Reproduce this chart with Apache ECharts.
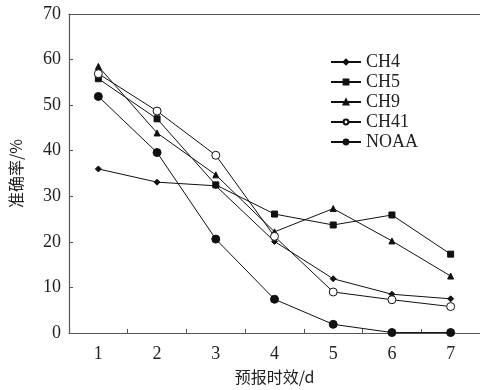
<!DOCTYPE html>
<html>
<head>
<meta charset="utf-8">
<script src="https://cdn.jsdelivr.net/npm/echarts@6/dist/echarts.min.js"></script>
<style>
  html, body { margin: 0; padding: 0; background: #fff; }
  #echart { width: 480px; height: 390px; }
</style>
</head>
<body>
<div id="echart"></div>
<script>
// 预报时效
const days = ["1", "2", "3", "4", "5", "6", "7"];
// 各通道准确率
const ch4 = [36.0, 33.1, 32.3, 20.1, 11.9, 8.5, 7.5];
const ch5 = [55.8, 47.0, 32.5, 26.1, 23.7, 25.9, 17.3];
const ch9 = [58.5, 43.9, 34.7, 22.2, 27.3, 20.2, 12.5];
const ch41 = [56.9, 48.7, 39.0, 21.2, 9.0, 7.3, 5.8];
const noaa = [51.9, 39.6, 20.6, 7.4, 1.9, 0.1, 0.1];

var chartDom = document.getElementById("echart");
var lineChart = echarts.init(chartDom);
var axisColor = "#555";
var serif = "'Liberation Serif', 'Times New Roman', serif";

function makeSeries(name, data, symbol, size, fill) {
  return {
    name: name,
    type: "line",
    data: data,
    symbol: symbol,
    symbolSize: size,
    showAllSymbol: true,
    lineStyle: { color: "#111", width: 1 },
    itemStyle: { color: fill || "#111", borderColor: "#111", borderWidth: 1 },
    emphasis: { disabled: true },
  };
}

var lineOption = {
  animation: false,
  grid: { left: 69, right: -3, top: 14, bottom: 57, containLabel: false },
  legend: {
    orient: "vertical",
    left: 330,
    top: 53,
    padding: 0,
    itemWidth: 30,
    itemHeight: 6,
    itemGap: 2,
    textStyle: { fontFamily: serif, fontSize: 18, color: "#222" },
    data: ["CH4", "CH5", "CH9", "CH41", "NOAA"],
  },
  xAxis: [
    {
      type: "category",
      data: days,
      boundaryGap: true,
      name: "预报时效/d",
      nameLocation: "middle",
      nameGap: 36,
      nameTextStyle: { fontFamily: "Noto Sans CJK SC", fontSize: 16, color: "#222" },
      axisLine: { show: true, lineStyle: { color: axisColor, width: 1.2 } },
      axisTick: { show: true, inside: true, length: 4, lineStyle: { color: axisColor } },
      axisLabel: { fontFamily: serif, fontSize: 18, color: "#222", margin: 12 },
      splitLine: { show: false },
    },
    {
      type: "category",
      data: days,
      position: "top",
      axisLine: { show: true, lineStyle: { color: axisColor, width: 1.2 } },
      axisTick: { show: false },
      axisLabel: { show: false },
    },
  ],
  yAxis: {
    type: "value",
    min: 0,
    max: 70,
    interval: 10,
    name: "准确率/%",
    nameLocation: "middle",
    nameRotate: 90,
    nameGap: 45,
    nameTextStyle: { fontFamily: "Noto Sans CJK SC", fontSize: 16, color: "#222" },
    axisLine: { show: true, lineStyle: { color: axisColor, width: 1.2 } },
    axisTick: { show: true, inside: true, length: 4, lineStyle: { color: axisColor } },
    axisLabel: { fontFamily: serif, fontSize: 18, color: "#222", margin: 8 },
    splitLine: { show: false },
  },
  series: [
    makeSeries("CH4", ch4, "diamond", 6),
    makeSeries("CH5", ch5, "rect", 6),
    makeSeries("CH9", ch9, "triangle", 6),
    makeSeries("CH41", ch41, "circle", 8, "#fff"),
    makeSeries("NOAA", noaa, "circle", 8),
  ],
};
lineChart.setOption(lineOption);
</script>
</body>
</html>
